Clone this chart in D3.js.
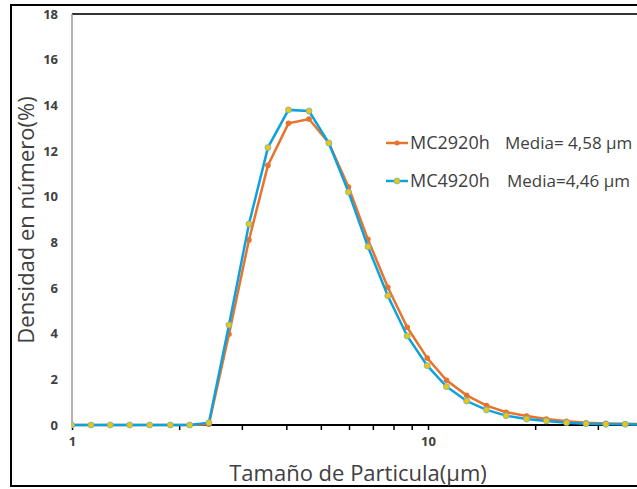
<!doctype html>
<html>
  <head>
    <meta charset="utf-8">
    <title>Densidad en número</title>
    <style>
      body { margin: 0; background: #fff; }
      svg { display: block; }
      .tick-label { font-family: "Open Sans", sans-serif; font-weight: bold; font-size: 13px; fill: #404040; }
      .title { font-family: "Open Sans", sans-serif; font-size: 22px; fill: #404040; }
    </style>
  </head>
  <body>
  <script src="https://d3js.org/d3.v7.min.js" charset="utf-8"></script>
  <script>

    // particle size bins (um)
    var sizes = [0.997, 1.131, 1.281, 1.452, 1.653, 1.888, 2.141, 2.424, 2.76, 3.141,
                 3.551, 4.055, 4.632, 5.265, 5.98, 6.78, 7.71, 8.74, 9.95, 11.27,
                 12.84, 14.6, 16.58, 18.92, 21.5, 24.5, 27.8, 31.6, 35.8, 40.6];

    var mc2920 = [0, 0, 0, 0, 0, 0, 0, 0.03, 3.97, 8.1,
                  11.37, 13.21, 13.4, 12.35, 10.42, 8.13, 6.03, 4.28, 2.93, 1.96,
                  1.3, 0.85, 0.56, 0.39, 0.26, 0.16, 0.1, 0.07, 0.05, 0.04];

    var mc4920 = [0, 0, 0, 0, 0, 0, 0, 0.1, 4.38, 8.8,
                  12.15, 13.8, 13.75, 12.35, 10.2, 7.81, 5.66, 3.9, 2.6, 1.68,
                  1.05, 0.66, 0.41, 0.26, 0.18, 0.1, 0.06, 0.03, 0.03, 0.02];

    var seriesNames = ["MC2920h", "MC4920h"];
    var seriesMedia = ["Media= 4,58 \u00b5m", "Media=4,46 \u00b5m"];
    var yTicks = [0, 2, 4, 6, 8, 10, 12, 14, 16, 18];
    var xLabels = [1, 10];

    var width = 637, height = 489;
    var plotLeft = 72, plotTop = 14, plotBottom = 425;

    var svg = d3.select("body").append("svg")
      .attr("width", width)
      .attr("height", height);

    var x = d3.scaleLog().domain([1, 100]).range([plotLeft, plotLeft + 712]);
    var y = d3.scaleLinear().domain([0, 18]).range([plotBottom, plotTop]);

    // outer frame
    svg.append("rect")
      .attr("x", 11).attr("y", 5)
      .attr("width", 700).attr("height", 481)
      .attr("fill", "none")
      .attr("stroke", "#000")
      .attr("stroke-width", 2);

    // plot box top line and left axis line
    svg.append("line")
      .attr("x1", plotLeft).attr("x2", width)
      .attr("y1", plotTop).attr("y2", plotTop)
      .attr("stroke", "#333").attr("stroke-width", 2);
    svg.append("line")
      .attr("x1", plotLeft).attr("x2", plotLeft)
      .attr("y1", plotTop).attr("y2", plotBottom)
      .attr("stroke", "#999").attr("stroke-width", 1.5);

    // y tick labels
    svg.selectAll(".ylab")
      .data(yTicks)
      .enter().append("text")
      .attr("class", "tick-label")
      .attr("x", 58)
      .attr("y", function(d) { return y(d); })
      .attr("dy", "0.35em")
      .attr("text-anchor", "end")
      .text(function(d) { return d; });

    // x axis (only ticks inside the visible width)
    var xAxis = d3.axisBottom(x)
      .tickSize(5)
      .tickValues(x.ticks().filter(function(d) { return x(d) < width; }))
      .tickFormat(function(d) { return xLabels.indexOf(d) >= 0 ? d : ""; });
    var gx = svg.append("g")
      .attr("transform", "translate(0," + plotBottom + ")")
      .call(xAxis);
    gx.select(".domain").remove();
    gx.selectAll(".tick line").attr("stroke", "#000").attr("stroke-width", 1.5);
    gx.selectAll(".tick text")
      .attr("class", "tick-label")
      .attr("y", 12);
    gx.append("line")
      .attr("x1", plotLeft).attr("x2", width)
      .attr("stroke", "#000").attr("stroke-width", 2);

    // clip for the plot area
    svg.append("clipPath").attr("id", "plot")
      .append("rect")
      .attr("x", plotLeft).attr("y", plotTop)
      .attr("width", width).attr("height", plotBottom - plotTop + 6);

    var line = d3.line()
      .x(function(d) { return x(d[0]); })
      .y(function(d) { return y(d[1]); });

    var plot = svg.append("g").attr("clip-path", "url(#plot)");

    var orange = d3.zip(sizes, mc2920);
    var blue = d3.zip(sizes, mc4920);

    plot.append("path")
      .datum(orange)
      .attr("d", line)
      .attr("fill", "none")
      .attr("stroke", "#E8732C")
      .attr("stroke-width", 2.5);
    plot.selectAll(".dot-o")
      .data(orange)
      .enter().append("circle")
      .attr("cx", function(d) { return x(d[0]); })
      .attr("cy", function(d) { return y(d[1]); })
      .attr("r", 2.8)
      .attr("fill", "#E8732C");

    plot.append("path")
      .datum(blue)
      .attr("d", line)
      .attr("fill", "none")
      .attr("stroke", "#0EA2DC")
      .attr("stroke-width", 2.5);
    plot.selectAll(".dot-b")
      .data(blue)
      .enter().append("circle")
      .attr("cx", function(d) { return x(d[0]); })
      .attr("cy", function(d) { return y(d[1]); })
      .attr("r", 3)
      .attr("fill", "#F5C400")
      .attr("stroke", "#5DB8D8")
      .attr("stroke-width", 0.8);

    // legend
    var legendColors = ["#E8732C", "#0EA2DC"];
    var legendY = [143, 181];
    var legend = svg.selectAll(".legend")
      .data(seriesNames)
      .enter().append("g")
      .attr("transform", function(d, i) { return "translate(0," + legendY[i] + ")"; });
    legend.append("line")
      .attr("x1", 386).attr("x2", 408)
      .attr("stroke", function(d, i) { return legendColors[i]; })
      .attr("stroke-width", 2.5);
    legend.append("circle")
      .attr("cx", 397).attr("r", function(d, i) { return i ? 3 : 2.5; })
      .attr("fill", function(d, i) { return i ? "#F5C400" : "#E8732C"; })
      .attr("stroke", function(d, i) { return i ? "#5DB8D8" : "none"; })
      .attr("stroke-width", 0.8);
    legend.append("text")
      .attr("x", 410)
      .attr("dy", "0.36em")
      .attr("font-family", "'Open Sans', sans-serif")
      .attr("font-size", 18)
      .attr("fill", "#404040")
      .text(function(d) { return d; });
    legend.append("text")
      .attr("x", function(d, i) { return i ? 507 : 505; })
      .attr("dy", "0.36em")
      .attr("font-family", "'Open Sans', sans-serif")
      .attr("font-size", 17)
      .attr("fill", "#404040")
      .text(function(d, i) { return seriesMedia[i]; });

    // axis titles
    svg.append("text")
      .attr("class", "title")
      .attr("x", 358).attr("y", 481)
      .attr("text-anchor", "middle")
      .text("Tamaño de Particula(\u00b5m)");
    svg.append("text")
      .attr("class", "title")
      .attr("transform", "translate(34,220) rotate(-90)")
      .attr("text-anchor", "middle")
      .text("Densidad en número(%)");

  </script>
  </body>
</html>
